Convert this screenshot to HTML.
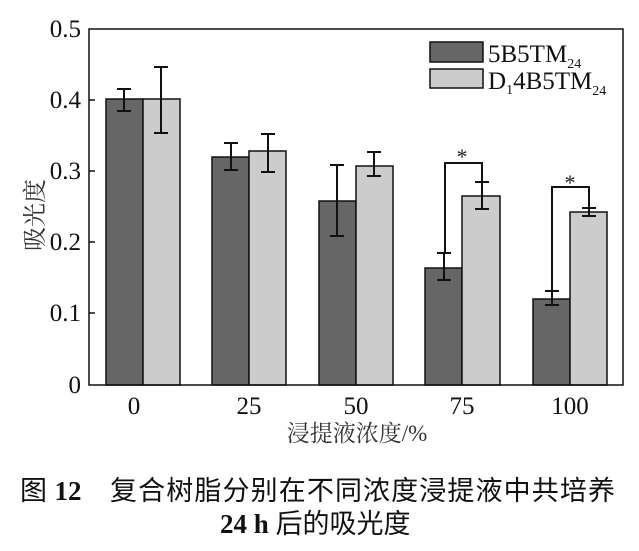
<!DOCTYPE html>
<html><head><meta charset="utf-8"><style>
html,body{margin:0;padding:0;background:#fff;}
svg{display:block;}
.s{font-family:"Liberation Serif","Noto Serif CJK SC",serif;}
.c{font-family:"Liberation Sans","Noto Sans CJK SC",sans-serif;}
</style></head><body>
<svg width="639" height="551" viewBox="0 0 639 551" xmlns="http://www.w3.org/2000/svg">
<g stroke="#111" stroke-width="1.5">
<rect x="106" y="99" width="37" height="286" fill="#666"/>
<rect x="143" y="99" width="37" height="286" fill="#ccc"/>
<rect x="212" y="157" width="37" height="228" fill="#666"/>
<rect x="249" y="151" width="37" height="234" fill="#ccc"/>
<rect x="319" y="201" width="37" height="184" fill="#666"/>
<rect x="356" y="166" width="37" height="219" fill="#ccc"/>
<rect x="425" y="268" width="37" height="117" fill="#666"/>
<rect x="462" y="196" width="38" height="189" fill="#ccc"/>
<rect x="533" y="299" width="37" height="86" fill="#666"/>
<rect x="570" y="212" width="37" height="173" fill="#ccc"/>
</g>
<g stroke="#111" stroke-width="2" fill="none">
<path d="M124 89V111M117 89H131M117 111H131"/>
<path d="M161 67V133M154 67H168M154 133H168"/>
<path d="M231 143V170M224 143H238M224 170H238"/>
<path d="M268 134V172M261 134H275M261 172H275"/>
<path d="M337 165V236M330 165H344M330 236H344"/>
<path d="M374 152V176M367 152H381M367 176H381"/>
<path d="M444 253V280M437 253H451M437 280H451"/>
<path d="M482 182V209M475 182H489M475 209H489"/>
<path d="M552 291V305M545 291H559M545 305H559"/>
<path d="M589 208V216M582 208H596M582 216H596"/>
<path d="M445 253V163H482V182"/>
<path d="M552 291V187H589V208"/>
</g>
<text x="462" y="164" class="s" font-size="22" text-anchor="middle" fill="#222">*</text>
<text x="570" y="190" class="s" font-size="22" text-anchor="middle" fill="#222">*</text>
<rect x="89" y="29" width="534" height="356" fill="none" stroke="#111" stroke-width="1.5"/>
<g stroke="#111" stroke-width="1.5">
<path d="M89 100H95M89 171H95M89 242H95M89 313H95"/>
</g>
<g class="s" font-size="25" fill="#111" text-anchor="end">
<text x="81" y="37">0.5</text>
<text x="81" y="108">0.4</text>
<text x="81" y="179">0.3</text>
<text x="81" y="250">0.2</text>
<text x="81" y="321">0.1</text>
<text x="81" y="393">0</text>
</g>
<g class="s" font-size="25" fill="#111" text-anchor="middle">
<text x="134" y="414">0</text>
<text x="249" y="414">25</text>
<text x="356" y="414">50</text>
<text x="462" y="414">75</text>
<text x="570" y="414">100</text>
</g>
<text x="357" y="441" class="s" font-size="23" fill="#333" text-anchor="middle">浸提液浓度/%</text>
<text transform="translate(43,215) rotate(-90)" class="s" font-size="24" fill="#333" text-anchor="middle">吸光度</text>
<rect x="430" y="42" width="53" height="20" fill="#666" stroke="#111" stroke-width="1.5"/>
<rect x="430" y="69" width="53" height="19" fill="#ccc" stroke="#111" stroke-width="1.5"/>
<text x="488" y="62" class="s" font-size="25" fill="#111">5B5TM<tspan font-size="14" dy="6">24</tspan></text>
<text x="488" y="89" class="s" font-size="25" fill="#111">D<tspan font-size="14" dy="5">1</tspan><tspan dy="-5">4B5TM</tspan><tspan font-size="14" dy="6">24</tspan></text>
<text x="20" y="500" font-size="27" fill="#111"><tspan class="c">图 </tspan><tspan class="s" font-weight="bold">12</tspan></text>
<text x="110" y="500" class="c" font-size="27" fill="#111" textLength="505" lengthAdjust="spacing">复合树脂分别在不同浓度浸提液中共培养</text>
<text x="220" y="533" font-size="27" fill="#111"><tspan class="s" font-weight="bold">24 h </tspan><tspan class="c">后的吸光度</tspan></text>
</svg>
</body></html>
